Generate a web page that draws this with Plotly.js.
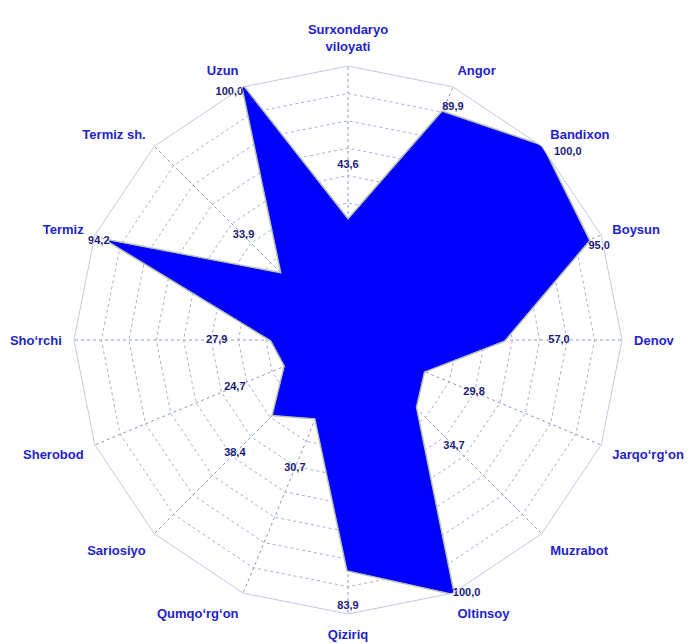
<!DOCTYPE html>
<html>
<head>
<meta charset="utf-8">
<script src="https://cdn.plot.ly/plotly-3.0.1.min.js"></script>
<style>
html,body{margin:0;padding:0;background:#fff;}
#chart{width:690px;height:644px;}
</style>
</head>
<body>
<div id="chart"></div>
<script>
// Data
const categories = [
  "Surxondaryo<br>viloyati", "Angor", "Bandixon", "Boysun", "Denov",
  "Jarqo‘rg‘on", "Muzrabot", "Oltinsoy", "Qiziriq", "Qumqo‘rg‘on",
  "Sariosiyo", "Sherobod", "Sho‘rchi", "Termiz", "Termiz sh.", "Uzun"
];
const values = [43.6, 89.9, 100.0, 95.0, 57.0, 29.8, 34.7, 100.0, 83.9, 30.7, 38.4, 24.7, 27.9, 94.2, 33.9, 100.0];

const n = categories.length;
const closedTheta = categories.concat([categories[0]]);
const closedR = values.concat([values[0]]);

// label placement rule (style only)
function labelPos(i) {
  const a = i * 360 / n;
  if (a < 30) return 'top right';
  if (a <= 90) return 'bottom right';
  if (a < 170) return 'middle right';
  if (a <= 190) return 'bottom center';
  if (a < 315) return 'middle left';
  return 'bottom left';
}
const labelR = values.map(v => v < 85 ? Math.min(v + 20, 97) : v);
const labelPositions = values.map((v, i) => v < 85 ? 'middle center' : labelPos(i));
const labelText = values.map((v, i) => {
  const s = v.toFixed(1).replace('.', ',');
  return (labelPositions[i] === 'bottom right' && v >= 100) ? '\u2007\u2007' + s : s;
});

const traces = [
  { // shadow outline
    type: 'scatterpolar', mode: 'lines',
    r: closedR, theta: closedTheta,
    line: {color: '#b8c0b0', width: 4},
    hoverinfo: 'skip', showlegend: false
  },
  {
    type: 'scatterpolar', mode: 'lines',
    r: closedR, theta: closedTheta,
    fill: 'toself', fillcolor: '#0000ff',
    line: {color: '#0000ff', width: 1},
    hoverinfo: 'skip', showlegend: false
  },
  {
    type: 'scatterpolar', mode: 'text',
    r: labelR, theta: categories,
    text: labelText, textposition: labelPositions,
    textfont: {family: 'Liberation Sans, Arial, sans-serif', size: 11, color: '#1c1c78', weight: 'bold'},
    cliponaxis: false,
    hoverinfo: 'skip', showlegend: false
  }
];

const layout = {
  width: 690, height: 644,
  margin: {l: 0, r: 0, t: 0, b: 0},
  paper_bgcolor: '#ffffff',
  showlegend: false,
  polar: {
    domain: {x: [74/690, 622/690], y: [30/644, 578/644]},
    bgcolor: 'rgba(0,0,0,0)',
    gridshape: 'linear',
    radialaxis: {
      range: [0, 100], dtick: 10, tick0: 0,
      showticklabels: false, ticks: '',
      showline: false,
      gridcolor: '#a8aedc', gridwidth: 1, griddash: 'dot'
    },
    angularaxis: {
      direction: 'clockwise', rotation: 90,
      categoryorder: 'array', categoryarray: categories,
      showline: true, linecolor: '#c4c8e8', linewidth: 1,
      gridcolor: '#9098c8', gridwidth: 1, griddash: 'dot',
      ticks: 'outside', ticklen: 9, tickcolor: 'rgba(0,0,0,0)',
      tickfont: {family: 'Liberation Sans, Arial, sans-serif', size: 13, color: '#2323c8', weight: 'bold'}
    }
  }
};

Plotly.newPlot('chart', traces, layout, {displayModeBar: false, staticPlot: true});
</script>
</body>
</html>
